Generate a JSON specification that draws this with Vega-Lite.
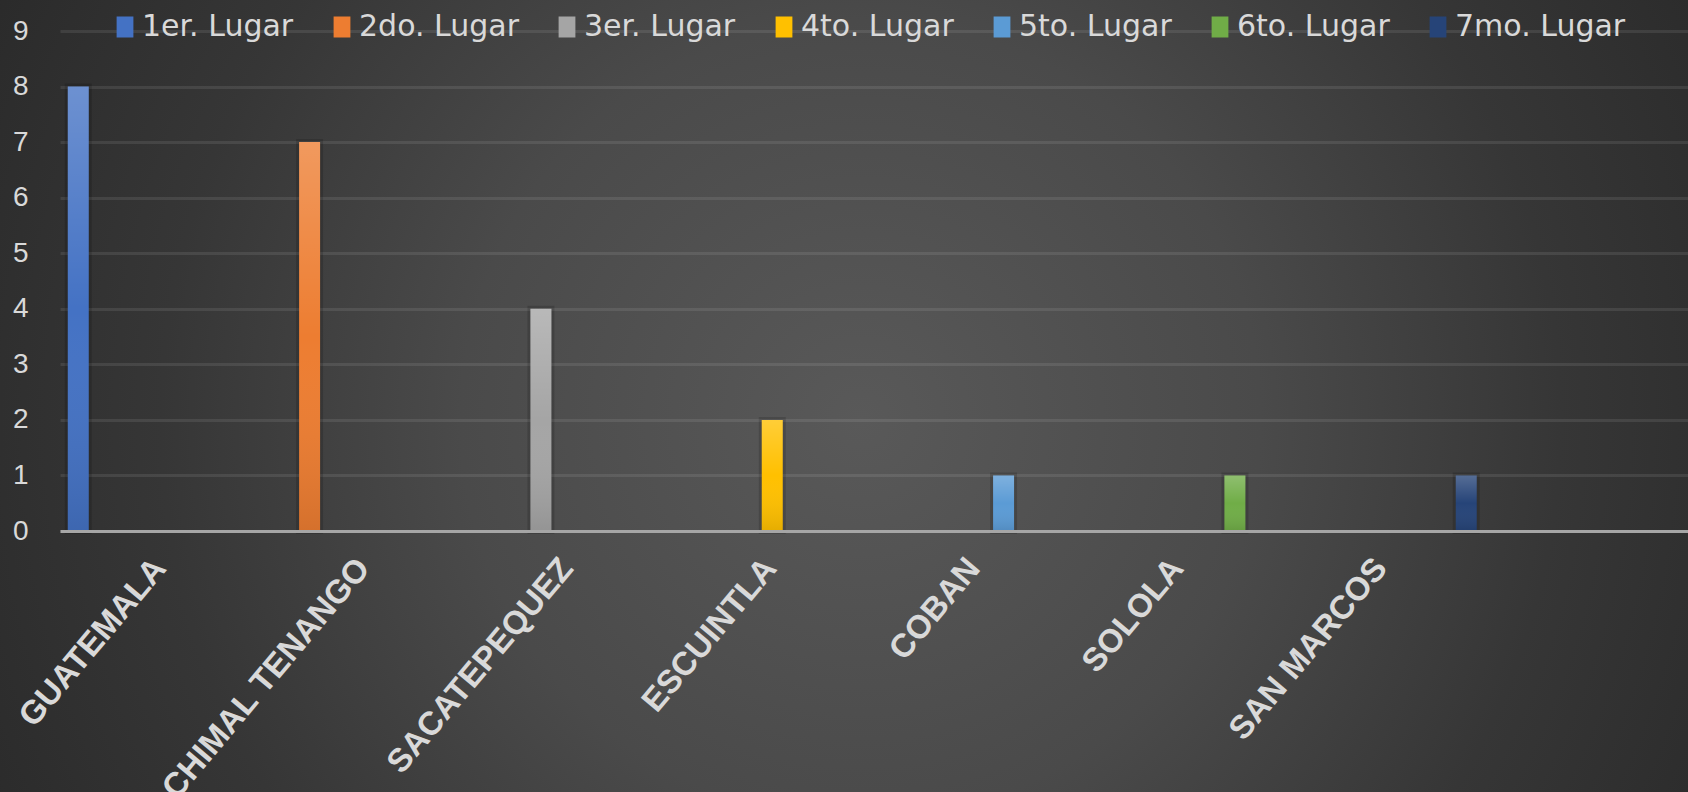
{
  "$schema": "https://vega.github.io/schema/vega-lite/v6.json",
  "width": 1688,
  "height": 792,
  "autosize": {"type": "none"},
  "padding": 0,
  "background": "#2b2b2b",
  "config": {
    "view": {
      "stroke": null,
      "fill": {
        "gradient": "radial",
        "x1": 0.51, "y1": 0.514, "r1": 0,
        "x2": 0.51, "y2": 0.514, "r2": 0.592,
        "stops": [
          {"offset": 0, "color": "#595959"},
          {"offset": 0.4, "color": "#4a4a4a"},
          {"offset": 0.7, "color": "#363636"},
          {"offset": 1, "color": "#292929"}
        ]
      }
    }
  },
  "data": {
    "values": [
      {"depto": "GUATEMALA", "lugar": "1er. Lugar", "valor": 8},
      {"depto": "CHIMAL TENANGO", "lugar": "2do. Lugar", "valor": 7},
      {"depto": "SACATEPEQUEZ", "lugar": "3er. Lugar", "valor": 4},
      {"depto": "ESCUINTLA", "lugar": "4to. Lugar", "valor": 2},
      {"depto": "COBAN", "lugar": "5to. Lugar", "valor": 1},
      {"depto": "SOLOLA", "lugar": "6to. Lugar", "valor": 1},
      {"depto": "SAN MARCOS", "lugar": "7mo. Lugar", "valor": 1}
    ]
  },
  "encoding": {
    "x": {
      "field": "depto",
      "type": "nominal",
      "sort": null,
      "scale": {"type": "band", "range": [60, 1688], "paddingInner": 0, "paddingOuter": 0.5, "align": 0},
      "axis": {
        "title": null,
        "orient": "bottom",
        "offset": -261,
        "ticks": false,
        "tickSize": 0,
        "grid": false,
        "domain": true,
        "domainColor": "#a6a6a6",
        "domainWidth": 3,
        "labelAngle": -50,
        "labelAlign": "right",
        "labelBaseline": "top",
        "labelFont": "Liberation Sans",
        "labelFontWeight": "bold",
        "labelFontSize": 33,
        "labelColor": "#d9d9d9",
        "labelPadding": 21,
        "labelOffset": -14,
        "labelLimit": 0,
        "labelOverlap": false,
        "zindex": 1
      }
    },
    "xOffset": {
      "field": "lugar",
      "type": "nominal",
      "sort": null,
      "scale": {
        "domain": ["1er. Lugar", "2do. Lugar", "3er. Lugar", "4to. Lugar", "5to. Lugar", "6to. Lugar", "7mo. Lugar"],
        "paddingInner": 0.2455,
        "paddingOuter": 0.279
      }
    },
    "y": {
      "field": "valor",
      "type": "quantitative",
      "scale": {"domain": [0, 9], "range": [531, 31], "nice": false, "zero": true},
      "axis": {
        "title": null,
        "orient": "left",
        "offset": -60,
        "values": [0, 1, 2, 3, 4, 5, 6, 7, 8, 9],
        "domain": false,
        "ticks": false,
        "tickSize": 0,
        "grid": true,
        "gridColor": "#ffffff",
        "gridOpacity": 0.09,
        "gridWidth": 3,
        "labelFont": "Liberation Sans",
        "labelFontSize": 28,
        "labelColor": "#d9d9d9",
        "labelPadding": 32
      }
    }
  },
  "layer": [
    {
      "mark": {"type": "bar", "fill": "#000000", "fillOpacity": 0, "stroke": "#000000", "strokeOpacity": 0.15, "strokeWidth": 6}
    },
    {
      "mark": {"type": "bar"},
      "encoding": {
        "color": {
          "field": "lugar",
          "type": "nominal",
          "sort": null,
          "scale": {
            "domain": ["1er. Lugar", "2do. Lugar", "3er. Lugar", "4to. Lugar", "5to. Lugar", "6to. Lugar", "7mo. Lugar"],
            "range": ["#4472C4", "#ED7D31", "#A5A5A5", "#FFC000", "#5B9BD5", "#70AD47", "#264478"]
          },
          "legend": {
            "title": null,
            "orient": "none",
            "legendX": 110,
            "legendY": 12,
            "direction": "horizontal",
            "columns": 7,
            "gridAlign": "each",
            "padding": 0,
            "columnPadding": 33,
            "rowPadding": 0,
            "symbolType": "M-0.8,-1H0.8V1H-0.8Z",
            "symbolSize": 441,
            "symbolStrokeWidth": 0,
            "labelFont": "DejaVu Sans",
            "labelFontSize": 30,
            "labelColor": "#d9d9d9",
            "labelOffset": 2,
            "labelLimit": 400
          }
        }
      }
    },
    {
      "mark": {
        "type": "bar",
        "fill": {
          "gradient": "linear",
          "x1": 0, "y1": 0, "x2": 0, "y2": 1,
          "stops": [
            {"offset": 0, "color": "rgba(255,255,255,0.22)"},
            {"offset": 0.5, "color": "rgba(255,255,255,0)"},
            {"offset": 1, "color": "rgba(0,0,0,0.1)"}
          ]
        }
      }
    }
  ]
}
